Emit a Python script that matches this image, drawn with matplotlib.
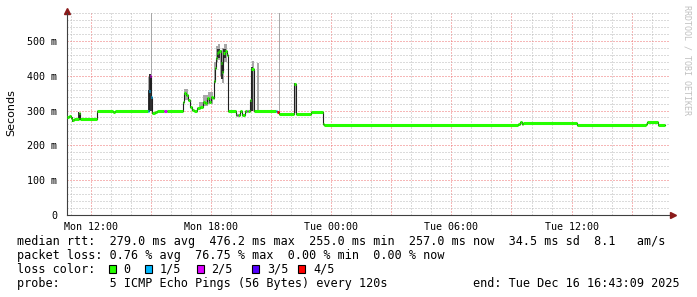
import matplotlib
matplotlib.use("Agg")
import matplotlib.pyplot as plt
import matplotlib.dates as mdates
from matplotlib.ticker import MultipleLocator, FuncFormatter
from matplotlib.patches import Rectangle
from datetime import datetime, timedelta

# time is in hours after Mon 15 Dec 2025 12:00, values in ms
base = datetime(2025, 12, 15, 12, 0)

med_h = [-1.18, -1.08, -0.98, -0.91, -0.83, -0.58, -0.53, 0.30, 1.11, 1.21,
         2.86, 2.91, 2.98, 3.03, 3.08, 3.21, 3.31, 3.68, 3.81,
         4.61, 4.68, 4.78, 4.86, 4.96, 5.06, 5.16, 5.30, 5.45, 5.60, 5.70,
         5.80, 5.90, 6.00, 6.10, 6.15, 6.20, 6.25, 6.30, 6.37, 6.42, 6.48,
         6.54, 6.62, 6.70, 6.78, 6.84, 7.24, 7.29, 7.37, 7.43, 7.54, 7.70,
         7.78, 7.86, 7.95, 8.00, 8.15, 9.25, 9.31, 9.41, 10.16, 10.25,
         11.02, 11.57, 11.61, 11.64, 21.34, 21.42, 21.50, 21.59, 24.25,
         27.71, 27.77, 28.32]
med_ms = [281, 285, 278, 272, 277, 292, 277, 298, 295, 298,
          298, 355, 400, 340, 292, 296, 298, 298, 298,
          325, 350, 345, 330, 311, 302, 299, 306, 311, 325, 321,
          335, 325, 340, 336, 384, 422, 451, 465, 468, 470, 437,
          410, 465, 470, 460, 300, 288, 288, 288, 298, 287, 298,
          298, 298, 330, 418, 298, 300, 297, 290, 375, 290,
          295, 275, 262, 257, 262, 268, 262, 265, 257,
          262, 268, 257]
med_loss = [0, 0, 0, 0, 0, 0, 0, 0, 0, 0,
            1, 1, 2, 1, 0, 0, 0, 2, 0,
            0, 0, 0, 0, 0, 0, 0, 0, 0, 0, 0,
            0, 0, 0, 0, 0, 0, 0, 0, 0, 0, 0,
            0, 0, 0, 0, 0, 0, 2, 0, 0, 0, 0,
            2, 0, 0, 0, 0, 1, 4, 0, 0, 0,
            0, 0, 0, 0, 0, 0, 0, 0, 0,
            0, 0, 0]
med_end_h = 28.66

# smoke (spread of the 5 pings): start, end, low, high
smoke_light_t0 = [3.02, 9.39, 2.88, 4.66, 5.40, 5.60, 5.85, 6.15, 6.25, 6.35,
                  6.45, 6.55, 6.65, 8.05, 8.28, 10.15]
smoke_light_t1 = [3.07, 9.44, 3.06, 4.86, 5.60, 5.85, 6.10, 6.25, 6.35, 6.45,
                  6.55, 6.65, 6.78, 8.15, 8.40, 10.25]
smoke_light_lo = [340, 293, 298, 330, 305, 312, 318, 380, 440, 445,
                  400, 380, 440, 300, 300, 292]
smoke_light_hi = [600, 600, 395, 362, 325, 345, 352, 440, 485, 490,
                  475, 480, 492, 441, 437, 380]

smoke_dark_t0 = [-0.93, -0.61, 2.86, 2.91, 3.03, 6.30, 6.50, 6.62, 7.99, 10.16]
smoke_dark_t1 = [-0.88, -0.56, 2.91, 3.03, 3.08, 6.45, 6.58, 6.74, 8.12, 10.22]
smoke_dark_lo = [268, 278, 298, 300, 300, 450, 390, 450, 300, 292]
smoke_dark_hi = [282, 295, 360, 405, 395, 478, 440, 478, 425, 378]

loss_labels = ["0", "1/5", "2/5", "3/5", "4/5"]
loss_colors = ["#26ff00", "#00b8ff", "#dd00ff", "#5500ff", "#ff0000"]

stats_lines = [
    "median rtt:  279.0 ms avg  476.2 ms max  255.0 ms min  257.0 ms now  34.5 ms sd  8.1   am/s",
    "packet loss: 0.76 % avg  76.75 % max  0.00 % min  0.00 % now",
]
probe_text = "probe:       5 ICMP Echo Pings (56 Bytes) every 120s"
end_text = "end: Tue Dec 16 16:43:09 2025"


def to_num(hs):
    return mdates.date2num([base + timedelta(hours=float(h)) for h in hs])


plt.rcParams["font.family"] = "DejaVu Sans Mono"
W, H = 697, 297
fig = plt.figure(figsize=(W / 100, H / 100), dpi=100)
ax = fig.add_axes([67 / W, 1 - 215 / H, (669 - 67) / W, (215 - 13) / H])

ax.set_xlim(*to_num([-1.18, 28.86]))
ax.set_ylim(0, 580)

# smoke
for t0, t1, lo, hi in zip(smoke_light_t0, smoke_light_t1, smoke_light_lo, smoke_light_hi):
    a, b = to_num([t0, t1])
    ax.bar(a, hi - lo, bottom=lo, width=b - a, align="edge", color="#a8a8a8", lw=0, zorder=2)
for t0, t1, lo, hi in zip(smoke_dark_t0, smoke_dark_t1, smoke_dark_lo, smoke_dark_hi):
    a, b = to_num([t0, t1])
    ax.bar(a, hi - lo, bottom=lo, width=b - a, align="edge", color="#303030", lw=0, zorder=3)

# median, black step line then loss-coloured segments
tt = to_num(med_h + [med_end_h])
ax.plot(tt, med_ms + [med_ms[-1]], drawstyle="steps-post", color="#202020", lw=0.8, zorder=4)
ax.hlines(med_ms, tt[:-1], tt[1:], colors=[loss_colors[l] for l in med_loss],
          lw=2.2, zorder=5)

# grid
ax.yaxis.set_major_locator(MultipleLocator(100))
ax.yaxis.set_minor_locator(MultipleLocator(20))
ax.xaxis.set_major_locator(mdates.HourLocator(byhour=range(0, 24, 3)))
ax.xaxis.set_minor_locator(mdates.HourLocator())
ax.set_axisbelow(True)
ax.grid(which="minor", color="#b8b8b8", lw=0.72, ls=(0, (1, 2)))
ax.grid(which="major", color="#ee7070", lw=0.72, ls=(0, (1, 2)))


def xfmt(v, pos):
    d = mdates.num2date(v)
    return d.strftime("%a %H:%M") if d.hour % 6 == 0 else ""


ax.xaxis.set_major_formatter(FuncFormatter(xfmt))
ax.yaxis.set_major_formatter(FuncFormatter(lambda v, p: "0" if v == 0 else "%d m" % v))
ax.tick_params(which="both", length=0, labelsize=7.2, colors="#000000")
ax.tick_params(axis="x", pad=5)
ax.tick_params(axis="y", pad=7)

for s in ["top", "right"]:
    ax.spines[s].set_visible(False)
for s in ["left", "bottom"]:
    ax.spines[s].set_color("#404040")
    ax.spines[s].set_linewidth(0.8)

ax.plot(0, 1.012, marker="^", color="#8b1a1a", ms=4, transform=ax.transAxes, clip_on=False)
ax.plot(1.006, 0, marker=">", color="#8b1a1a", ms=4, transform=ax.transAxes, clip_on=False)

fig.text(11 / W, 1 - 113 / H, "Seconds", rotation=90, ha="center", va="center",
         family="DejaVu Sans", fontsize=8)
fig.text(687 / W, 1 - 5 / H, "RRDTOOL / TOBI OETIKER", rotation=270, ha="center", va="top",
         fontsize=6, color="#c0c0c0")

# legend / stats block
fs = 8.45
fig.text(16.7 / W, 1 - 241.7 / H, stats_lines[0], ha="left", va="center", fontsize=fs)
fig.text(16.7 / W, 1 - 255 / H, stats_lines[1], ha="left", va="center", fontsize=fs)
fig.text(16.7 / W, 1 - 269.3 / H, "loss color:", ha="left", va="center", fontsize=fs)
box_x = [109, 145, 197, 252, 298]
lab_x = [123, 160, 211, 267, 313]
for bx, lx, lab, col in zip(box_x, lab_x, loss_labels, loss_colors):
    fig.add_artist(Rectangle((bx / W, 1 - 273.3 / H), 7 / W, 8 / H, transform=fig.transFigure,
                             facecolor=col, edgecolor="black", lw=0.8))
    fig.text(lx / W, 1 - 269.3 / H, lab, ha="left", va="center", fontsize=fs)
fig.text(16.7 / W, 1 - 283.3 / H, probe_text, ha="left", va="center", fontsize=fs)
fig.text(680 / W, 1 - 283.3 / H, end_text, ha="right", va="center", fontsize=fs)

fig.savefig("out.png", dpi=100)
